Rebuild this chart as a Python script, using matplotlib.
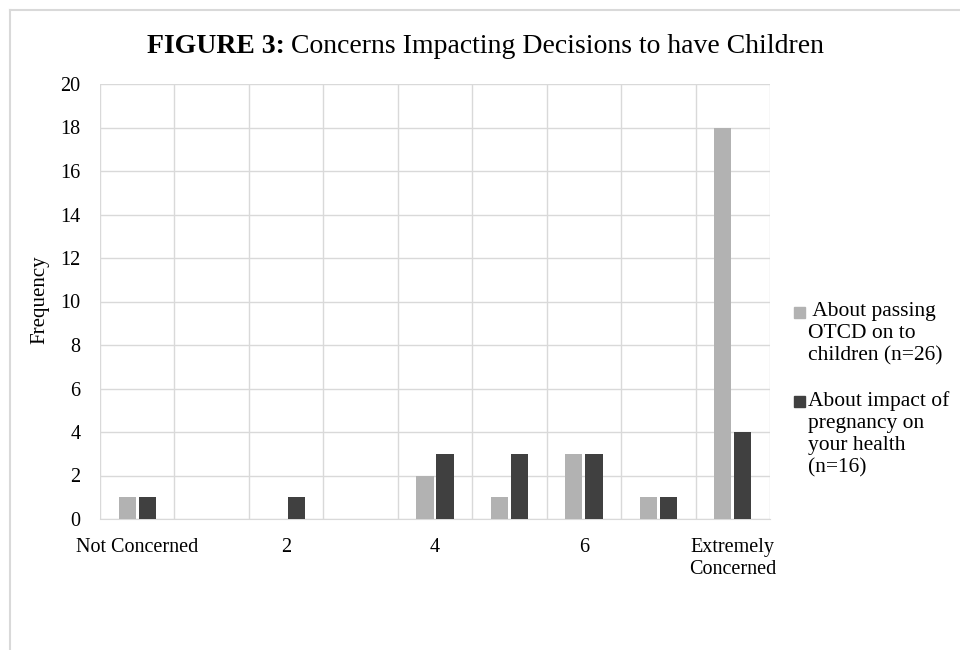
import matplotlib
matplotlib.use("Agg")
import matplotlib.pyplot as plt
from matplotlib.lines import Line2D
from matplotlib.patches import Rectangle
import numpy as np

plt.rcParams['font.family'] = ['Liberation Serif', 'DejaVu Serif']

# concern rating 0..8, only every other level is labelled on the axis
levels = ["Not Concerned", "1", "2", "3", "4", "5", "6", "7", "Extremely\nConcerned"]
shown_labels = {0: "Not Concerned", 2: "2", 4: "4", 6: "6", 8: "Extremely\nConcerned"}
passing_otcd = [1, 0, 0, 0, 2, 1, 3, 1, 18]
pregnancy_health = [1, 0, 1, 0, 3, 3, 3, 1, 4]
series_names = [" About passing\nOTCD on to\nchildren (n=26)",
                "About impact of\npregnancy on\nyour health\n(n=16)"]
series_colors = ["#b2b2b2", "#404040"]

fig = plt.figure(figsize=(9.6, 6.5), dpi=100)
ax = fig.add_axes([100/960, 1 - 519/650, 670/960, 435/650])

x = np.arange(len(levels))
w = 0.23
gap = 0.03
ax.bar(x - w/2 - gap/2 - 0.005, passing_otcd, width=w, color=series_colors[0], zorder=3)
ax.bar(x + w/2 + gap/2 + 0.005, pregnancy_health, width=w, color=series_colors[1], zorder=3)

ax.set_xlim(-0.5, len(levels) - 0.5)
ax.set_ylim(0, 20)
ax.set_yticks(range(0, 21, 2))
ax.set_xticks(list(shown_labels.keys()))
ax.set_xticklabels(list(shown_labels.values()), fontsize=14.5, va="top",
                   linespacing=1.2)
ax.tick_params(axis="y", labelsize=14.5, length=0, pad=14)
ax.tick_params(axis="x", length=0, pad=14)

# category boundaries as vertical gridlines
for b in np.arange(-0.5, len(levels), 1.0):
    ax.axvline(b, color="#d9d9d9", lw=1, zorder=1)
ax.yaxis.grid(True, color="#d9d9d9", lw=1, zorder=1)
for s in ["top", "right", "left"]:
    ax.spines[s].set_visible(False)
ax.spines["bottom"].set_color("#d9d9d9")
ax.set_ylabel("Frequency", fontsize=15)
ax.yaxis.set_label_coords((49 - 100)/670, (519 - 300)/435)

t1 = fig.text(147/960, 1 - 53/650, "FIGURE 3:", fontsize=20, fontweight="bold",
              va="baseline", ha="left")
fig.canvas.draw()
bb = t1.get_window_extent()
fig.text((bb.x1 + 6)/960, 1 - 53/650, "Concerns Impacting Decisions to have Children",
         fontsize=20, va="baseline", ha="left")

# legend drawn to the right of the plot, marker level with the first line
legend_tops = [1 - 302/650, 1 - 391/650]
for name, color, top in zip(series_names, series_colors, legend_tops):
    fig.add_artist(Rectangle((794/960, top - 16/650), 11/960, 11/650,
                             transform=fig.transFigure, color=color))
    fig.text(808/960, top, name, fontsize=15.5, va="top", ha="left",
             linespacing=1.22)

# outer chart frame
fig.add_artist(Line2D([10/960, 10/960], [0, 1 - 10/650], color="#d9d9d9", lw=1.5,
                      transform=fig.transFigure))
fig.add_artist(Line2D([10/960, 1], [1 - 10/650, 1 - 10/650], color="#d9d9d9", lw=1.5,
                      transform=fig.transFigure))

fig.savefig("out.png", dpi=100)
